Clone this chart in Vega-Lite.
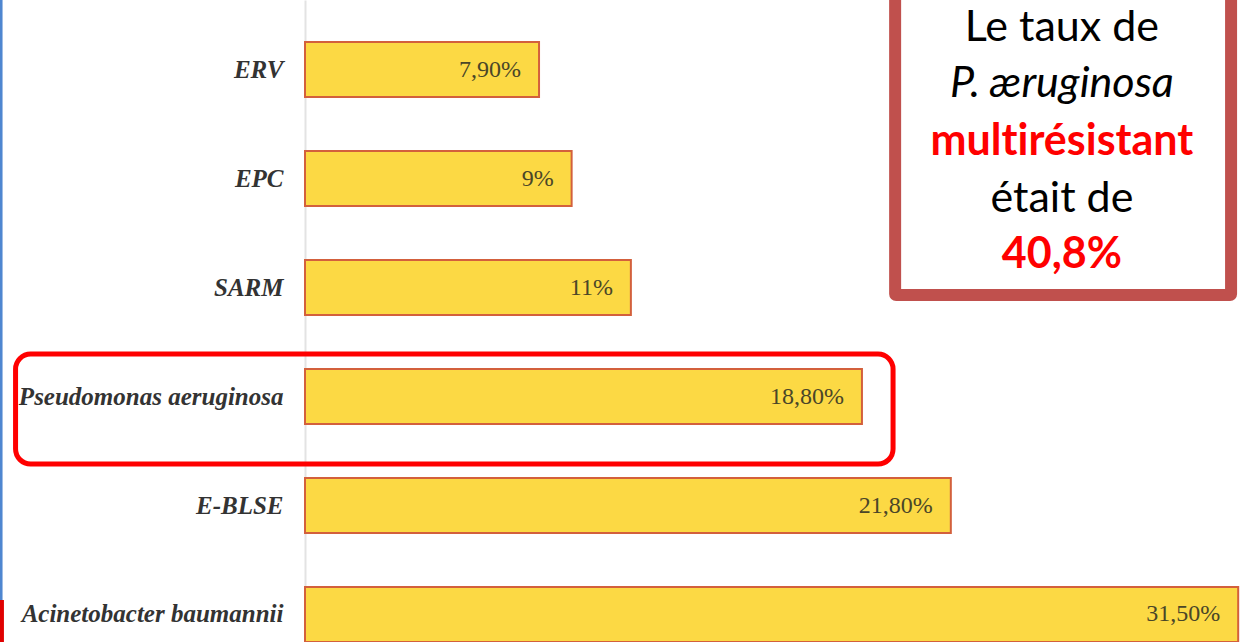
{
  "$schema": "https://vega.github.io/schema/vega-lite/v6.json",
  "width": 948,
  "height": 642,
  "autosize": {"type": "none"},
  "padding": {"left": 305, "top": 0, "right": 0, "bottom": 0},
  "background": "white",
  "config": {"view": {"stroke": null}},
  "resolve": {"scale": {"y": "independent"}, "axis": {"y": "independent"}},
  "layer": [
    {
      "layer": [
        {
          "data": {"values": [
            {"cat": "ERV", "value": 7.9, "label": "7,90%"},
            {"cat": "EPC", "value": 9.0, "label": "9%"},
            {"cat": "SARM", "value": 11.0, "label": "11%"},
            {"cat": "Pseudomonas aeruginosa", "value": 18.8, "label": "18,80%"},
            {"cat": "E-BLSE", "value": 21.8, "label": "21,80%"},
            {"cat": "Acinetobacter baumannii", "value": 31.5, "label": "31,50%"}
          ]},
          "layer": [
            {
              "mark": {"type": "bar", "fill": "#FCD944", "stroke": "#D3603C", "strokeWidth": 2},
              "encoding": {
                "y": {"field": "cat", "type": "nominal", "sort": null,
                  "scale": {"paddingInner": 0.4954, "paddingOuter": 0.1927, "align": 1},
                  "axis": {"title": null, "ticks": false, "grid": false, "domainColor": "#e3e3e3", "domainWidth": 2,
                    "labelPadding": 22, "labelFont": "Liberation Serif", "labelFontSize": 25, "labelFontStyle": "italic",
                    "labelFontWeight": "bold", "labelColor": "#333333", "labelLimit": 400}},
                "x": {"field": "value", "type": "quantitative", "scale": {"domain": [0, 32], "nice": false, "zero": true}, "axis": null}
              }
            },
            {
              "mark": {"type": "text", "align": "right", "baseline": "middle", "dx": -18, "font": "Liberation Serif", "fontSize": 24, "color": "#4a4628"},
              "encoding": {
                "y": {"field": "cat", "type": "nominal", "sort": null},
                "x": {"field": "value", "type": "quantitative", "scale": {"domain": [0, 32], "nice": false, "zero": true}},
                "text": {"field": "label"}
              }
            }
          ]
        },
        {
          "data": {"values": [{"cat": "Pseudomonas aeruginosa", "from": -9.77, "to": 19.85}]},
          "mark": {"type": "bar", "height": {"band": 2}, "yOffset": 12.5, "fill": "white", "fillOpacity": 0, "stroke": "#FF0000", "strokeWidth": 5, "cornerRadius": 15},
          "encoding": {
            "y": {"field": "cat", "type": "nominal", "sort": null},
            "x": {"field": "from", "type": "quantitative", "scale": {"domain": [0, 32], "nice": false, "zero": true}},
            "x2": {"field": "to"}
          }
        }
      ]
    },
    {
      "data": {"values": [{"note": "annotation"}]},
      "layer": [
        {
          "mark": {"type": "rect", "fill": "white", "stroke": "#C0504D", "strokeWidth": 12, "cornerRadius": 1, "strokeJoin": "round"},
          "encoding": {
            "x": {"datum": 19.92, "type": "quantitative", "scale": {"domain": [0, 32], "nice": false, "zero": true}},
            "x2": {"datum": 31.26},
            "y": {"datum": -20, "type": "quantitative", "scale": {"domain": [0, 642], "reverse": true, "nice": false, "zero": false}, "axis": null},
            "y2": {"datum": 295}
          }
        },
        {
          "mark": {"type": "text", "text": "Le taux de", "font": "Lato", "fontSize": 43, "align": "center", "baseline": "alphabetic", "color": "#000000"},
          "encoding": {
            "x": {"datum": 25.55, "type": "quantitative", "scale": {"domain": [0, 32], "nice": false, "zero": true}},
            "y": {"datum": 41, "type": "quantitative"}
          }
        },
        {
          "mark": {"type": "text", "text": "P. æruginosa", "font": "Lato", "fontSize": 43, "fontStyle": "italic", "align": "center", "baseline": "alphabetic", "color": "#000000"},
          "encoding": {
            "x": {"datum": 25.55, "type": "quantitative", "scale": {"domain": [0, 32], "nice": false, "zero": true}},
            "y": {"datum": 97, "type": "quantitative"}
          }
        },
        {
          "mark": {"type": "text", "text": "mult\u200cirésistant", "font": "Lato", "fontSize": 43, "fontWeight": "bold", "align": "center", "baseline": "alphabetic", "color": "#FF0000"},
          "encoding": {
            "x": {"datum": 25.55, "type": "quantitative", "scale": {"domain": [0, 32], "nice": false, "zero": true}},
            "y": {"datum": 155, "type": "quantitative"}
          }
        },
        {
          "mark": {"type": "text", "text": "était de", "font": "Lato", "fontSize": 43, "align": "center", "baseline": "alphabetic", "color": "#000000"},
          "encoding": {
            "x": {"datum": 25.55, "type": "quantitative", "scale": {"domain": [0, 32], "nice": false, "zero": true}},
            "y": {"datum": 212, "type": "quantitative"}
          }
        },
        {
          "mark": {"type": "text", "text": "40,8%", "font": "Lato", "fontSize": 43, "fontWeight": "bold", "align": "center", "baseline": "alphabetic", "color": "#FF0000"},
          "encoding": {
            "x": {"datum": 25.55, "type": "quantitative", "scale": {"domain": [0, 32], "nice": false, "zero": true}},
            "y": {"datum": 268, "type": "quantitative"}
          }
        },
        {
          "mark": {"type": "rule", "color": "#4F86D0", "strokeWidth": 3},
          "encoding": {
            "x": {"datum": -10.26, "type": "quantitative", "scale": {"domain": [0, 32], "nice": false, "zero": true}},
            "y": {"datum": 0, "type": "quantitative"},
            "y2": {"datum": 642}
          }
        },
        {
          "mark": {"type": "rule", "color": "#E00000", "strokeWidth": 4},
          "encoding": {
            "x": {"datum": -10.23, "type": "quantitative", "scale": {"domain": [0, 32], "nice": false, "zero": true}},
            "y": {"datum": 600, "type": "quantitative"},
            "y2": {"datum": 642}
          }
        }
      ]
    }
  ]
}
